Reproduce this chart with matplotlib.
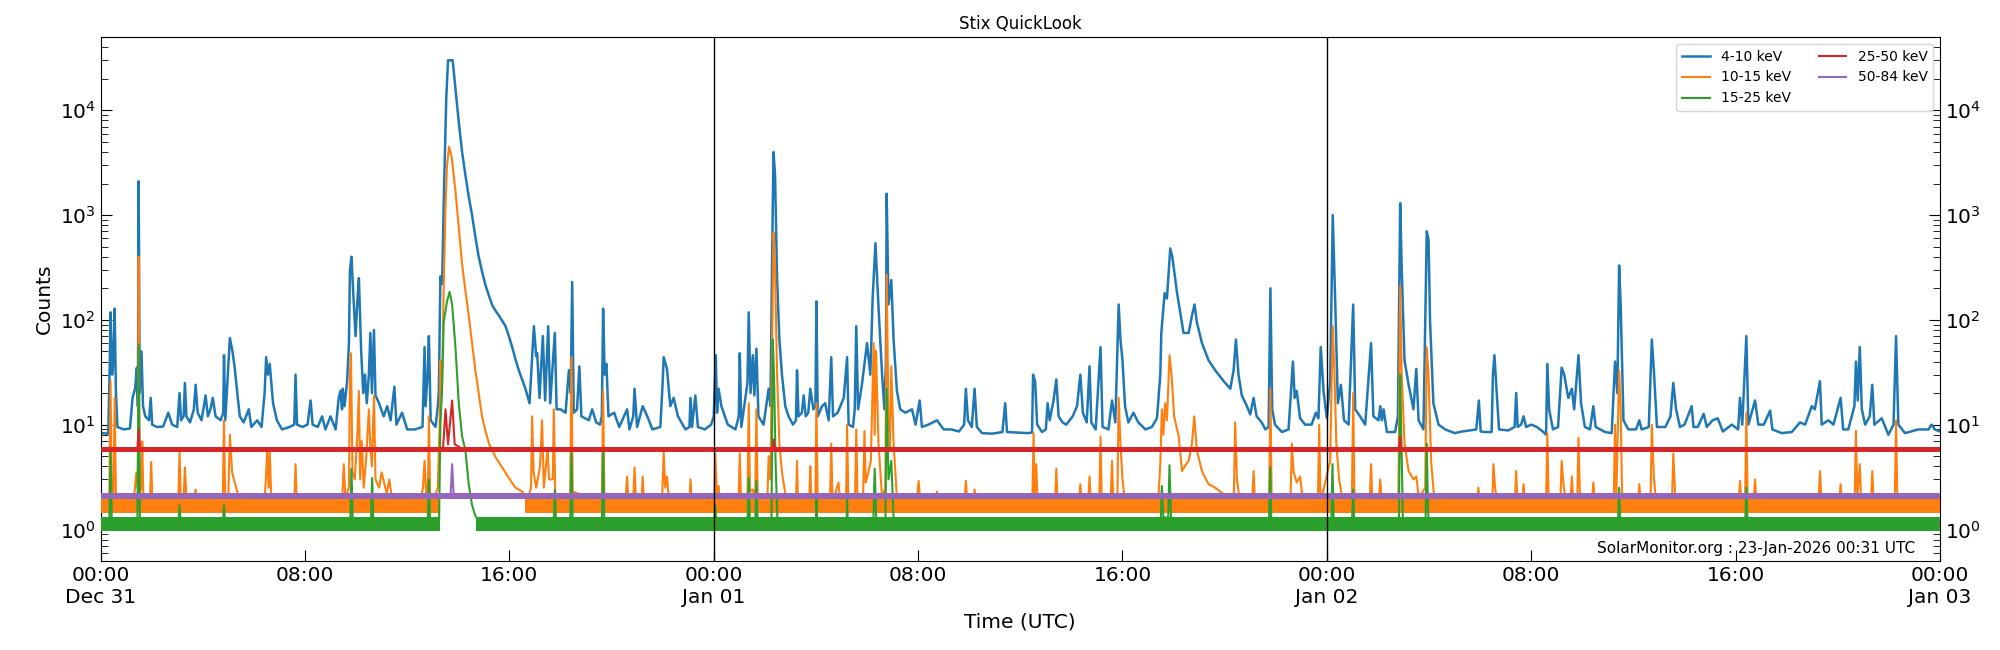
import numpy as np
import matplotlib
matplotlib.use("Agg")
import matplotlib.pyplot as plt
import matplotlib.dates as mdates
from matplotlib.ticker import FuncFormatter

# ---------------- data (hours since 2025-12-31 00:00 UTC, counts) ----------------
START = "2025-12-31T00:00"
labels = ["4-10 keV", "10-15 keV", "15-25 keV", "25-50 keV", "50-84 keV"]
colors = ["#1f77b4", "#ff7f0e", "#2ca02c", "#d62728", "#9467bd"]
day_lines_h = [24, 48]
title = "Stix QuickLook"
stamp = "SolarMonitor.org : 23-Jan-2026 00:31 UTC"

blue_pts = [
    (0, 8.3), (0.30, 8.2), (0.36, 40), (0.39, 118), (0.45, 30), (0.50, 40), (0.55, 128), (0.60, 20),
    (0.66, 9.5), (0.9, 9), (1.15, 9.2), (1.25, 18), (1.35, 22), (1.42, 35), (1.46, 15), (1.49, 2100),
    (1.53, 20), (1.60, 50), (1.66, 15), (1.75, 12), (1.90, 11), (1.96, 18), (2.02, 10), (2.2, 9.5),
    (2.45, 9.6), (2.65, 13), (2.8, 10), (3.0, 9.5), (3.09, 20), (3.15, 11), (3.25, 12), (3.30, 25),
    (3.36, 12), (3.5, 10.5), (3.65, 14), (3.72, 24), (3.80, 13), (3.95, 11), (4.11, 19), (4.2, 12),
    (4.3, 14), (4.39, 18), (4.5, 12), (4.7, 11), (4.80, 13), (4.83, 46), (4.88, 11), (4.98, 30),
    (5.06, 67), (5.15, 52), (5.25, 35), (5.35, 20), (5.45, 12), (5.6, 10.5), (5.8, 14), (5.9, 9.5),
    (6.13, 11), (6.3, 9.5), (6.42, 20), (6.48, 44), (6.55, 30), (6.62, 38), (6.75, 16), (6.9, 11),
    (7.1, 9), (7.4, 9.5), (7.58, 10), (7.63, 30), (7.69, 10), (7.9, 9.5), (8.1, 10), (8.22, 17),
    (8.3, 10), (8.5, 9.5), (8.67, 12), (8.8, 9),
    (9.0, 12), (9.2, 9), (9.32, 18), (9.39, 21), (9.45, 14), (9.48, 22), (9.55, 15), (9.65, 26),
    (9.72, 60), (9.76, 295), (9.82, 400), (9.90, 160), (9.98, 70), (10.05, 150), (10.11, 250),
    (10.2, 50), (10.28, 20), (10.35, 30), (10.42, 16), (10.5, 30), (10.56, 75), (10.62, 20),
    (10.70, 80), (10.76, 19), (10.9, 16), (11.08, 12), (11.22, 15), (11.35, 11), (11.50, 23),
    (11.58, 10), (11.8, 13), (12.0, 9), (12.3, 9), (12.6, 9.5), (12.65, 30), (12.68, 55), (12.72, 15),
    (12.80, 30), (12.85, 70), (12.92, 11), (13.11, 9.5), (13.2, 15), (13.24, 21), (13.30, 260),
    (13.37, 220), (13.43, 1300), (13.53, 13000), (13.60, 30000), (13.78, 30000), (13.89, 16000),
    (14.02, 7700), (14.15, 4000), (14.28, 2400), (14.41, 1500), (14.54, 1000), (14.67, 620),
    (14.80, 400), (14.93, 290), (15.06, 217), (15.2, 170), (15.33, 138), (15.46, 122), (15.59, 110),
    (15.72, 98), (15.85, 87), (15.98, 70), (16.11, 55), (16.24, 42), (16.37, 33), (16.5, 27),
    (16.63, 22), (16.79, 16), (16.96, 87),
    (17.05, 45), (17.09, 48), (17.18, 18), (17.31, 70), (17.40, 17), (17.52, 87), (17.60, 16),
    (17.78, 75), (17.85, 14),
    (18.0, 14), (18.2, 13), (18.33, 33), (18.40, 20), (18.46, 230), (18.52, 13), (18.65, 14),
    (18.74, 36), (18.82, 12), (19.11, 11), (19.24, 14), (19.4, 10.5), (19.55, 10), (19.62, 12),
    (19.67, 128), (19.73, 30), (19.80, 38), (19.88, 12), (20.1, 13), (20.3, 9.5), (20.61, 14),
    (20.7, 9), (20.85, 12), (20.9, 22), (21.0, 9.5), (21.22, 15), (21.4, 12), (21.6, 9), (21.91, 9.5),
    (22.0, 25), (22.04, 44), (22.17, 34), (22.3, 15), (22.43, 18), (22.6, 12), (22.89, 9),
    (23.05, 9.5), (23.09, 18), (23.15, 9.5), (23.28, 19), (23.38, 9.5), (23.65, 9), (23.9, 10),
    (24.0, 12), (24.08, 46), (24.13, 13), (24.19, 22), (24.3, 15), (24.55, 10), (24.85, 9),
    (24.98, 12), (25.02, 48), (25.08, 9.5), (25.24, 18), (25.32, 25), (25.37, 118), (25.44, 20),
    (25.53, 46), (25.59, 19), (25.67, 53), (25.75, 12), (25.95, 10), (26.15, 22), (26.22, 15),
    (26.29, 500), (26.34, 4000), (26.40, 2400), (26.48, 250), (26.57, 65), (26.67, 30), (26.80, 15),
    (26.93, 12),
    (27.1, 10), (27.22, 11), (27.26, 33), (27.32, 12), (27.45, 13), (27.52, 19), (27.60, 12),
    (27.70, 13), (27.78, 22), (27.9, 14), (27.98, 15), (28.02, 150), (28.07, 12), (28.24, 15),
    (28.36, 16), (28.5, 11), (28.6, 44), (28.67, 12), (28.85, 13), (29.09, 18), (29.22, 44),
    (29.28, 10), (29.45, 9.5), (29.52, 14), (29.58, 87), (29.65, 14), (29.80, 24), (30.0, 60),
    (30.13, 30), (30.22, 160), (30.33, 540), (30.46, 118), (30.59, 30), (30.68, 14), (30.74, 40),
    (30.77, 1600), (30.84, 140), (30.95, 240), (31.04, 65), (31.17, 21), (31.3, 14), (31.5, 13),
    (31.76, 14), (31.9, 10), (32.06, 17), (32.15, 9.5), (32.4, 10), (32.74, 11), (33.0, 9), (33.3, 9),
    (33.6, 8.6), (33.8, 10), (33.87, 22), (33.95, 11), (34.1, 9.5), (34.21, 22), (34.3, 9.5),
    (34.5, 8.3), (34.9, 8.2), (35.3, 8.5), (35.41, 16), (35.48, 8.5), (35.9, 8.4), (36.3, 8.3),
    (36.46, 8.4),
    (36.50, 30), (36.58, 26), (36.66, 10), (36.85, 8.5), (37.0, 9), (37.07, 16), (37.15, 11),
    (37.3, 17), (37.41, 27), (37.50, 12), (37.65, 10.5), (37.8, 10), (38.05, 12), (38.22, 15),
    (38.35, 30), (38.45, 13), (38.6, 10.5), (38.71, 36), (38.78, 10.5), (38.95, 9), (39.14, 55),
    (39.22, 9.5), (39.45, 9), (39.59, 17), (39.72, 10.5), (39.85, 140), (39.92, 65), (40.0, 41),
    (40.1, 15), (40.23, 10.5), (40.43, 13), (40.62, 10.5), (40.9, 9), (41.15, 9.5), (41.35, 11.5),
    (41.48, 30), (41.52, 75), (41.65, 180), (41.74, 160), (41.87, 480), (41.95, 400), (42.13, 185),
    (42.26, 118), (42.39, 75), (42.59, 75), (42.72, 110), (42.82, 140), (42.91, 95), (43.11, 60),
    (43.37, 41), (43.63, 33), (43.96, 26), (44.22, 22), (44.35, 33), (44.44, 65), (44.54, 30),
    (44.67, 19), (44.87, 15), (45.0, 12.5), (45.13, 18),
    (45.25, 12), (45.45, 10.5), (45.59, 9), (45.72, 9.5), (45.79, 200), (45.86, 14), (45.97, 10),
    (46.24, 8.5), (46.5, 9), (46.67, 40), (46.74, 18), (46.82, 21), (46.95, 11.5), (47.15, 10),
    (47.4, 10), (47.57, 13), (47.67, 11.5), (47.76, 55), (47.87, 21), (48.0, 11.5), (48.13, 26),
    (48.23, 1000), (48.33, 140), (48.43, 16), (48.55, 24), (48.67, 11), (48.85, 10), (49.03, 140),
    (49.11, 14), (49.3, 12), (49.5, 10), (49.73, 60), (49.82, 12), (50.02, 11), (50.09, 15),
    (50.15, 11), (50.22, 14), (50.35, 8.5), (50.67, 8.5), (50.78, 12), (50.87, 1300), (50.93, 300),
    (51.04, 41), (51.2, 24), (51.39, 14), (51.50, 34), (51.59, 11), (51.78, 9), (51.91, 700),
    (51.98, 580), (52.04, 95), (52.17, 16), (52.37, 10), (52.63, 9), (53.0, 8.3), (53.3, 8.6),
    (53.85, 9), (53.95, 17), (54.02, 8.6),
    (54.2, 8.5), (54.45, 8.5), (54.50, 30), (54.56, 46), (54.66, 18), (54.74, 9), (55.1, 8.8),
    (55.35, 9.5), (55.41, 20), (55.47, 9.5), (55.6, 10), (55.7, 12), (55.8, 9.5), (56.0, 10),
    (56.22, 9.5), (56.45, 8.6), (56.58, 8), (56.63, 38), (56.70, 14), (56.85, 9), (57.05, 9.5),
    (57.19, 35), (57.29, 30), (57.45, 18), (57.59, 22), (57.68, 14), (57.85, 46), (57.95, 16),
    (58.1, 9.5), (58.3, 9), (58.43, 15), (58.52, 9.5), (58.89, 8.5), (59.15, 8.3), (59.28, 40),
    (59.37, 20), (59.44, 330), (59.50, 140), (59.61, 11), (59.8, 9), (60.1, 9), (60.23, 11),
    (60.32, 9), (60.6, 9.5), (60.72, 65), (60.81, 30), (60.92, 9.5), (61.25, 9.5), (61.45, 12),
    (61.56, 25), (61.67, 14), (61.82, 9.5), (62.0, 10), (62.28, 15), (62.35, 9.5), (62.52, 9.5),
    (62.75, 12.7), (62.87, 9.5), (63.1, 11),
    (63.3, 11.5), (63.5, 8.6), (63.85, 10), (64.1, 9), (64.17, 18), (64.26, 10), (64.42, 70),
    (64.50, 10), (64.76, 17), (64.89, 10), (65.1, 10), (65.35, 13.6), (65.44, 9), (65.8, 8.3),
    (66.2, 8.5), (66.52, 10.5), (66.72, 10), (66.98, 15), (67.1, 14), (67.3, 26), (67.37, 10),
    (67.63, 11), (67.83, 10), (68.11, 18), (68.21, 9), (68.41, 9), (68.65, 15), (68.71, 40),
    (68.78, 17), (68.86, 55), (68.94, 14), (69.07, 10), (69.25, 12), (69.35, 24), (69.43, 10),
    (69.72, 11.5), (69.98, 8), (70.18, 10), (70.28, 70), (70.37, 10), (70.63, 8.3), (71.15, 9),
    (71.55, 9), (71.67, 10), (71.8, 9), (72.0, 8.6),
]

orange_pts = [
    (0, 1.75), (0.34, 1.8), (0.39, 26), (0.44, 1.8), (0.50, 1.8), (0.55, 18), (0.60, 2.0), (0.70, 1.8),
    (1.30, 1.9), (1.40, 3.5), (1.46, 2.5), (1.49, 400), (1.53, 2.2), (1.60, 2.5), (1.63, 6.9),
    (1.67, 2.2), (1.72, 1.8), (1.93, 1.8), (1.98, 4.4), (2.03, 1.8), (3.04, 1.8), (3.09, 5.5),
    (3.14, 1.8), (3.25, 2.0), (3.30, 3.9), (3.36, 2.0), (3.65, 2.0), (3.72, 2.4), (3.78, 1.8),
    (4.78, 1.8), (4.83, 11), (4.88, 1.8), (5.0, 2.2), (5.06, 8), (5.15, 3.5), (5.25, 2.8),
    (5.35, 2.3), (5.45, 1.8), (6.42, 1.9), (6.48, 3.4), (6.52, 5.5), (6.58, 2.5), (6.62, 5.5),
    (6.68, 2.0), (6.75, 1.8), (7.58, 1.8), (7.63, 4.2), (7.68, 1.8),
    (9.45, 1.8), (9.52, 4.2), (9.58, 2), (9.72, 2.5), (9.76, 30), (9.80, 48), (9.86, 3.5), (9.95, 3),
    (10.05, 8), (10.11, 21), (10.16, 3), (10.22, 7), (10.30, 2.5), (10.40, 5), (10.50, 14),
    (10.56, 6), (10.62, 4), (10.70, 19), (10.76, 3), (10.9, 2.5), (11.0, 3.5), (11.2, 2.2), (11.3, 3),
    (11.4, 2), (12.5, 1.8), (12.62, 2.5), (12.68, 4.5), (12.75, 2.0), (12.82, 3), (12.85, 12),
    (12.90, 2.0), (13.05, 2.0), (13.20, 2.5), (13.27, 10), (13.30, 41), (13.36, 20), (13.43, 200),
    (13.50, 1200), (13.56, 3000), (13.64, 4500), (13.74, 3600), (13.89, 1700), (14.02, 750),
    (14.15, 340), (14.28, 190), (14.41, 110), (14.54, 60), (14.67, 33), (14.80, 20), (14.93, 12),
    (15.06, 8.8), (15.20, 6.6), (15.46, 4.9), (15.72, 3.9), (15.98, 3.1),
    (16.24, 2.5), (16.5, 2.3), (16.7, 1.9), (16.85, 2.5), (16.89, 12), (16.95, 3.5), (17.05, 2.5),
    (17.20, 4), (17.28, 11), (17.35, 2.5), (17.5, 6), (17.55, 3), (17.70, 3), (17.74, 14),
    (17.80, 2.0), (17.95, 1.8),
    (18.38, 1.8), (18.43, 44), (18.48, 2.3), (19.62, 1.8), (19.67, 21), (19.72, 2.0), (20.55, 1.9),
    (20.61, 3.2), (20.66, 1.9), (20.85, 2.0), (20.9, 3.9), (20.95, 2.0), (21.17, 1.9), (21.22, 3.2),
    (21.27, 1.9), (21.98, 2.0), (22.04, 5.5), (22.1, 2.5), (22.17, 3.2), (22.25, 1.9), (23.05, 1.8),
    (23.09, 3.0), (23.14, 1.8), (24.02, 1.8), (24.06, 5.3), (24.12, 2.2), (24.19, 2.6), (24.25, 1.8),
    (24.97, 1.8), (25.02, 5.3), (25.07, 1.8), (25.32, 1.9), (25.37, 16), (25.42, 2.3), (25.53, 2.4),
    (25.62, 1.9), (25.67, 14), (25.72, 2.0), (26.10, 1.9), (26.15, 5), (26.22, 3), (26.29, 65),
    (26.34, 680), (26.40, 300), (26.48, 30), (26.57, 6.6), (26.67, 3.5), (26.80, 2.2), (26.95, 1.8),
    (27.22, 1.8), (27.26, 4.5), (27.30, 1.8), (27.74, 1.9), (27.78, 4.0), (27.82, 1.9), (27.98, 1.9),
    (28.02, 16), (28.07, 1.8), (28.55, 1.8), (28.6, 6.6), (28.65, 1.8), (28.88, 2.8), (28.95, 1.9),
    (29.18, 1.9), (29.22, 10), (29.27, 1.8), (29.53, 1.9), (29.58, 9), (29.63, 1.9), (29.85, 2.2),
    (29.9, 8.7), (29.95, 2.8), (30.05, 3.5), (30.15, 4.5), (30.26, 60), (30.30, 8), (30.35, 51),
    (30.45, 6.6), (30.59, 2.0), (30.72, 2.5), (30.77, 270), (30.84, 12), (30.90, 6), (30.95, 36),
    (31.04, 6.6), (31.17, 2.0), (31.95, 1.9), (32.02, 2.9), (32.08, 1.9), (32.7, 1.9), (32.74, 2.3),
    (32.8, 1.9), (33.82, 1.9), (33.87, 2.9), (33.92, 1.9), (34.16, 1.9), (34.21, 2.4), (34.26, 1.9),
    (36.47, 1.8), (36.52, 8.3), (36.56, 2), (36.62, 4.2), (36.68, 1.8), (37.36, 1.8), (37.41, 3.8),
    (37.46, 1.8), (38.30, 1.9), (38.35, 2.7), (38.40, 1.9), (38.66, 1.9), (38.71, 3.2), (38.76, 1.9),
    (39.09, 1.8), (39.14, 7.7), (39.19, 1.8), (39.54, 1.9), (39.59, 4.5), (39.64, 1.9), (39.80, 1.9),
    (39.85, 18), (39.92, 6.6), (40.0, 3), (40.08, 2.0), (41.40, 1.9), (41.48, 4.2), (41.54, 14),
    (41.60, 8), (41.67, 16), (41.74, 11), (41.84, 46), (41.92, 30), (42.02, 12), (42.2, 7.7),
    (42.33, 3.6), (42.46, 4.1), (42.59, 4.5), (42.72, 6.6), (42.81, 12), (42.91, 5.7), (43.11, 3.6),
    (43.37, 2.7), (43.63, 2.5), (44.15, 2.0), (44.36, 2.2), (44.41, 10.5), (44.48, 3.0), (44.6, 1.8),
    (45.08, 1.9), (45.13, 3.6), (45.18, 1.9),
    (45.74, 1.8), (45.79, 22), (45.84, 1.8), (46.58, 2.0), (46.63, 6.6), (46.70, 3.5), (46.82, 2.8),
    (46.95, 3.2), (47.05, 2.0), (47.65, 1.9), (47.70, 10), (47.75, 1.8), (48.13, 4.5), (48.23, 87),
    (48.30, 30), (48.37, 6.6), (48.48, 3), (48.6, 2.0), (48.98, 1.9), (49.03, 20), (49.08, 1.8),
    (49.68, 1.9), (49.73, 4.2), (49.78, 1.9), (50.05, 2.0), (50.09, 3.0), (50.14, 2.0), (50.80, 2.0),
    (50.87, 210), (50.93, 30), (51.04, 6.6), (51.2, 3.6), (51.39, 3.0), (51.50, 3.2), (51.6, 2.0),
    (51.85, 2.5), (51.91, 55), (51.98, 30), (52.08, 4.5), (52.2, 2.0), (53.88, 1.9), (53.93, 2.5),
    (53.98, 1.9),
    (54.48, 1.9), (54.52, 4.2), (54.58, 2.6), (54.66, 1.8), (55.36, 1.9), (55.41, 3.6), (55.46, 1.9),
    (55.65, 1.9), (55.70, 2.7), (55.75, 1.9), (56.58, 1.9), (56.63, 8.3), (56.68, 1.9), (57.14, 1.9),
    (57.19, 4.5), (57.26, 2.7), (57.35, 1.9), (57.54, 1.9), (57.59, 3.2), (57.64, 1.9), (57.80, 1.9),
    (57.85, 7.5), (57.91, 1.9), (58.38, 1.9), (58.43, 2.8), (58.48, 1.9), (59.23, 1.9), (59.28, 10),
    (59.33, 2.0), (59.44, 33), (59.50, 14), (59.56, 1.9), (60.18, 1.9), (60.23, 2.7), (60.28, 1.9),
    (60.67, 1.9), (60.72, 10), (60.80, 3.1), (60.88, 1.9), (61.51, 1.9), (61.56, 5.3), (61.63, 2.2),
    (61.7, 1.8),
    (64.12, 1.9), (64.17, 2.9), (64.22, 1.9), (64.37, 1.9), (64.42, 13), (64.47, 1.9), (64.71, 1.9),
    (64.76, 3.0), (64.81, 1.9), (67.25, 1.9), (67.30, 3.6), (67.36, 1.9), (68.06, 1.9), (68.11, 2.7),
    (68.16, 1.9), (68.66, 1.9), (68.71, 8.7), (68.76, 2.0), (68.86, 4.2), (68.91, 1.9), (69.30, 1.9),
    (69.35, 3.6), (69.40, 1.9), (70.23, 1.9), (70.28, 11), (70.33, 1.9), (72, 1.8),
]

green_pts = [
    (0, 1.1), (0.34, 1.1), (0.39, 5.7), (0.44, 1.1), (1.44, 1.1), (1.49, 58), (1.54, 1.1), (3.04, 1.1),
    (3.09, 1.7), (3.14, 1.1), (4.78, 1.1), (4.83, 1.7), (4.88, 1.1), (9.77, 1.1), (9.82, 3.8),
    (9.87, 1.2), (10.58, 1.1), (10.63, 3.1), (10.68, 1.1), (12.80, 1.1), (12.85, 3.0), (12.90, 1.1),
    (13.25, 1.2), (13.30, 10), (13.36, 20), (13.43, 95), (13.56, 150), (13.66, 185), (13.76, 140),
    (13.89, 55), (14.02, 16), (14.15, 7.7), (14.28, 5.7), (14.41, 2.7), (14.54, 1.7), (14.67, 1.35),
    (14.85, 1.15), (17.74, 1.1), (17.78, 2.4), (17.83, 1.1), (18.38, 1.1), (18.43, 5.3), (18.48, 1.1),
    (19.62, 1.1), (19.67, 5.5), (19.72, 1.1), (24.01, 1.1), (24.06, 1.7), (24.11, 1.1), (25.32, 1.1),
    (25.37, 3.1), (25.42, 1.1), (25.62, 1.1), (25.67, 2.9), (25.72, 1.1), (26.26, 1.2), (26.31, 65),
    (26.36, 30), (26.42, 4.5), (26.50, 1.1), (28.0, 1.1), (28.02, 2.0), (28.05, 1.1), (29.2, 1.1),
    (29.22, 2.0), (29.25, 1.1), (30.25, 1.2), (30.30, 3.8), (30.36, 1.3), (30.72, 1.2), (30.77, 22),
    (30.84, 3), (30.95, 4.5), (31.04, 1.3), (31.12, 1.1), (41.49, 1.1), (41.54, 2.6), (41.60, 1.3),
    (41.79, 1.3), (41.84, 4.1), (41.90, 1.3), (42.0, 1.1), (45.73, 1.1), (45.78, 3.9), (45.83, 1.1),
    (48.17, 1.1), (48.22, 4.2), (48.27, 1.1), (48.98, 1.1), (49.03, 2.4), (49.08, 1.1), (50.82, 1.1),
    (50.87, 30), (50.92, 6.6), (50.98, 1.1), (51.86, 1.1), (51.91, 6.6), (51.96, 1.5), (52.0, 1.1),
    (59.39, 1.1), (59.44, 2.5), (59.49, 1.1), (64.37, 1.1), (64.42, 2.5), (64.47, 1.1), (72, 1.1),
]

red_pts = [
    (0, 5.75), (1.44, 5.75), (1.49, 9), (1.54, 5.75), (13.40, 5.75), (13.50, 14), (13.60, 6.5),
    (13.76, 17), (13.86, 6.5), (14.0, 6.2), (14.2, 5.75), (26.30, 5.75), (26.35, 7.2), (26.40, 5.75),
    (50.82, 5.75), (50.87, 7.7), (50.92, 5.75), (72, 5.75),
]

purple_pts = [(0, 2.08), (13.70, 2.08), (13.76, 4.2), (13.82, 2.1), (72, 2.08)]

# quiet-time noise envelopes (hours, low, high); NaN = no quiet band (flare in progress)
orange_band_t = [0, 13.25, 13.25, 16.6, 16.6, 72]
orange_band_lo = [1.42, 1.42, np.nan, np.nan, 1.42, 1.42]
orange_band_hi = [2.1, 2.1, np.nan, np.nan, 2.1, 2.1]
green_band_t = [0, 13.3, 13.3, 14.7, 14.7, 72]
green_band_lo = [0.96, 0.96, np.nan, np.nan, 0.96, 0.96]
green_band_hi = [1.3, 1.3, np.nan, np.nan, 1.3, 1.3]
red_band_t = [0, 72]
red_band_lo = [5.42, 5.42]
red_band_hi = [6.12, 6.12]
purple_band_t = [0, 72]
purple_band_lo = [1.94, 1.94]
purple_band_hi = [2.24, 2.24]

# ---------------- plotting ----------------
t0 = np.datetime64(START)


def to_time(hours):
    return t0 + (np.asarray(hours, dtype=float) * 3600).astype("timedelta64[s]")


def split(pts):
    pts = sorted(pts)
    return to_time([p[0] for p in pts]), np.array([p[1] for p in pts], dtype=float)


series = [blue_pts, orange_pts, green_pts, red_pts, purple_pts]
bands = [None,
         (orange_band_t, orange_band_lo, orange_band_hi),
         (green_band_t, green_band_lo, green_band_hi),
         (red_band_t, red_band_lo, red_band_hi),
         (purple_band_t, purple_band_lo, purple_band_hi)]
widths = [1.8, 1.5, 1.5, 1.5, 1.5]

fig = plt.figure(figsize=(20, 6.5), dpi=100)
ax = fig.add_axes([0.0503, 0.137, 0.9197, 0.806])

handles = []
for i, (pts, band) in enumerate(zip(series, bands)):
    z = 2 + i
    if band is not None:
        bt, lo, hi = band
        ax.fill_between(to_time(bt), np.array(lo, float), np.array(hi, float),
                        color=colors[i], lw=0, zorder=z)
    t, v = split(pts)
    (ln,) = ax.plot(t, v, color=colors[i], lw=widths[i], label=labels[i], zorder=z)
    handles.append(ln)

for h in day_lines_h:
    ax.axvline(to_time([h])[0], color="black", lw=1, zorder=10)

ax.set_yscale("log")
ax.set_ylim(0.5, 5e4)
ax.set_xlim(to_time([0])[0], to_time([72])[0])

ax.xaxis.set_major_locator(mdates.HourLocator(byhour=[0, 8, 16]))


def fmt(x, pos=None):
    d = mdates.num2date(x)
    if d.hour == 0 and d.minute == 0:
        return d.strftime("%H:%M") + "\n" + d.strftime("%b %d")
    return d.strftime("%H:%M")


ax.xaxis.set_major_formatter(FuncFormatter(fmt))
ax.tick_params(axis="x", which="major", direction="in", length=8, labelsize=14.5, top=False)
ax.tick_params(axis="y", which="major", direction="in", length=8, labelsize=14.5,
               left=True, right=True, labelleft=True, labelright=True)
ax.tick_params(axis="y", which="minor", direction="in", length=5, left=True, right=True)

ax.set_xlabel("Time (UTC)", fontsize=14.5)
ax.set_ylabel("Counts", fontsize=14.5)
ax.set_title(title, fontsize=12)

ax.legend(handles=handles, loc="upper right", ncol=2, fontsize=10)
ax.text(0.9864, 0.01, stamp, transform=ax.transAxes, ha="right", va="bottom", fontsize=11)

fig.savefig("out.png", dpi=100)
